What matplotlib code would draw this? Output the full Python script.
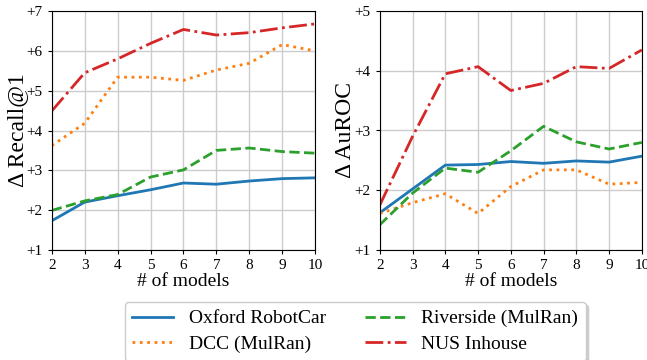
import matplotlib.pyplot as plt
import numpy as np

plt.rcParams['font.family'] = ['Liberation Serif', 'DejaVu Serif']

models = [2, 3, 4, 5, 6, 7, 8, 9, 10]

recall_oxford = [1.73, 2.20, 2.36, 2.51, 2.68, 2.65, 2.73, 2.79, 2.81]
recall_dcc = [3.62, 4.18, 5.34, 5.34, 5.26, 5.52, 5.69, 6.16, 6.00]
recall_riverside = [1.99, 2.23, 2.39, 2.83, 3.01, 3.50, 3.56, 3.47, 3.43]
recall_nus = [4.49, 5.45, 5.80, 6.19, 6.54, 6.40, 6.46, 6.58, 6.68]

auroc_oxford = [1.62, 2.02, 2.42, 2.43, 2.48, 2.45, 2.49, 2.47, 2.57]
auroc_dcc = [1.61, 1.79, 1.94, 1.61, 2.06, 2.34, 2.34, 2.10, 2.13]
auroc_riverside = [1.42, 1.95, 2.37, 2.30, 2.66, 3.07, 2.81, 2.69, 2.80]
auroc_nus = [1.75, 2.90, 3.95, 4.07, 3.67, 3.79, 4.07, 4.04, 4.35]

labels = ['Oxford RobotCar', 'DCC (MulRan)', 'Riverside (MulRan)', 'NUS Inhouse']
styles = ['-', ':', '--', '-.']
colors = ['#1f77b4', '#ff7f0e', '#2ca02c', '#d62728']

fig = plt.figure(figsize=(6.47, 3.6), dpi=100)
ax1 = fig.add_axes([0.080, 0.306, 0.407, 0.663])
ax2 = fig.add_axes([0.587, 0.306, 0.405, 0.663])

def draw(ax, series, ylim, ylabel):
    handles = []
    for vals, ls, c, lab in zip(series, styles, colors, labels):
        h, = ax.plot(models, vals, linestyle=ls, color=c, linewidth=2, label=lab)
        handles.append(h)
    ax.set_xlim(2, 10)
    ax.set_ylim(*ylim)
    ax.set_xticks(models)
    yt = np.arange(ylim[0], ylim[1] + 1)
    ax.set_yticks(yt)
    ax.set_yticklabels(['+%d' % v for v in yt])
    ax.tick_params(labelsize=11, length=3)
    ax.grid(True, color='#cccccc', linewidth=1)
    ax.set_axisbelow(True)
    ax.set_xlabel('# of models', fontsize=14, labelpad=1)
    ax.set_ylabel(ylabel, fontsize=17, labelpad=-1)
    return handles

handles = draw(ax1, [recall_oxford, recall_dcc, recall_riverside, recall_nus], (1, 7), 'Δ Recall@1')
draw(ax2, [auroc_oxford, auroc_dcc, auroc_riverside, auroc_nus], (1, 5), 'Δ AuROC')

fig.legend(handles=handles, loc='upper center', bbox_to_anchor=(0.549, 0.161), ncol=2,
           fontsize=14, shadow={'color': '0.8', 'alpha': 1}, columnspacing=2.0,
           handlelength=2.1, borderpad=0.4, borderaxespad=0, labelspacing=0.4)

fig.savefig('out.png', dpi=100)
